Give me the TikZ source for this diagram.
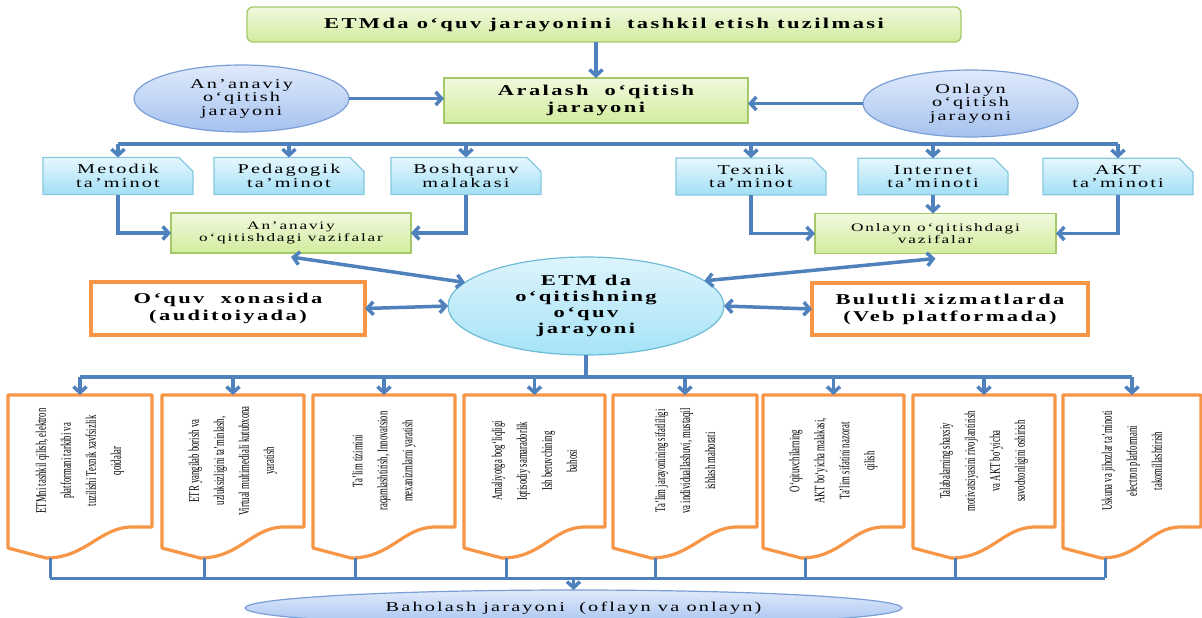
\documentclass[tikz,border=0pt]{standalone}
\usepackage{fontspec}
\setmainfont{Liberation Serif}
\newfontfamily\wf[FakeStretch=1.5,LetterSpace=16]{Liberation Serif}
\newfontfamily\cf[FakeStretch=0.6]{Liberation Serif}
\usetikzlibrary{arrows.meta,shapes.geometric,shapes.misc,calc}
\definecolor{gtop}{HTML}{F1F9DE}
\definecolor{gbot}{HTML}{D2EC9E}
\definecolor{gbord}{HTML}{A5C96A}
\definecolor{btop}{HTML}{DFEAFB}
\definecolor{bbot}{HTML}{A6C2EF}
\definecolor{bbord}{HTML}{7A9FD6}
\definecolor{ctop}{HTML}{E6F7FD}
\definecolor{cbot}{HTML}{A2DFF5}
\definecolor{cbord}{HTML}{86C9E0}
\definecolor{mtop}{HTML}{DDF4FC}
\definecolor{mbot}{HTML}{A6E3F7}
\definecolor{mbord}{HTML}{6FBCD6}
\definecolor{orng}{HTML}{F79646}
\definecolor{ablue}{HTML}{4F81BD}
\tikzset{
  every node/.style={inner sep=0pt,outer sep=0pt},
  gbox/.style={rectangle,draw=gbord,line width=1.3pt,top color=gtop,bottom color=gbot,align=center},
  bell/.style={ellipse,draw=bbord,line width=1.2pt,top color=btop,bottom color=bbot,align=center},
  cbox/.style={chamfered rectangle,chamfered rectangle corners=north east,chamfered rectangle xsep=7pt,chamfered rectangle ysep=7pt,draw=cbord,line width=1.2pt,top color=ctop,bottom color=cbot,align=center,minimum width=150pt,minimum height=36pt,font={\wf\fontsize{13.5}{13.5}\selectfont}},
  obox/.style={rectangle,draw=orng,line width=3.2pt,fill=white,align=center,font={\wf\bfseries\fontsize{15}{17}\selectfont}},
  docnode/.style={rectangle,draw=none},
  docline/.style={draw=orng,line width=3.2pt,fill=white,line join=round},
  vtext/.style={rotate=90,align=center,font={\cf\fontsize{14.5}{25}\selectfont}},
  lnk/.style={draw=ablue,line width=3.5pt},
  thinlnk/.style={draw=ablue,line width=3pt},
  arr/.style={draw=ablue,line width=3.5pt,-{Straight Barb[length=6pt,width=13pt]}},
  darr/.style={draw=ablue,line width=3.5pt,{Straight Barb[length=6pt,width=13pt]}-{Straight Barb[length=6pt,width=13pt]}}
}
\newcommand\mydocbox[4]{%
  \node[docnode,minimum width=#3,minimum height=132pt,anchor=north west] (#1) at (#2,395) {};
  \draw[docline] (#1.north west) -- (#1.north east) -- (#1.south east) -- ([xshift=-20pt]#1.south east)
     .. controls +(-32,0) and +(40,0) .. ([xshift=38pt,yshift=-31pt]#1.south west)
     -- ([yshift=-21pt]#1.south west) -- cycle;
  \node[vtext] (#1t) at (#1.center) {#4};
  \coordinate (#1b) at ([xshift=42pt,yshift=-31pt]#1.south west);
}
\begin{document}
\begin{tikzpicture}[x=1pt,y=-1pt]
\useasboundingbox (0,0) rectangle (1202,618);
\fill[white] (0,0) rectangle (1202,618);
\clip (0,0) rectangle (1202,618);
% top
\node[gbox,rounded corners=6pt,minimum width=714pt,minimum height=35pt,font={\wf\bfseries\fontsize{15}{16}\selectfont}] (tit) at (604,24.5) {ETMda o‘quv jarayonini\ \ tashkil etish tuzilmasi};
\node[gbox,minimum width=304pt,minimum height=45pt,font={\wf\bfseries\fontsize{15}{17}\selectfont}] (ara) at (596,100.5) {Aralash\ \ o‘qitish\\jarayoni};
\node[bell,minimum width=215pt,minimum height=67pt,font={\wf\fontsize{13.5}{13.5}\selectfont}] (lel) at (241.5,98.5) {An’anaviy\\o‘qitish\\jarayoni};
\node[bell,minimum width=215pt,minimum height=67pt,font={\wf\fontsize{13.5}{13.5}\selectfont}] (rel) at (970.5,103.5) {Onlayn\\o‘qitish\\jarayoni};
\draw[arr] (tit.south -| ara.north) -- (ara.north);
\draw[arr] (lel.east) -- (ara.west |- lel.east);
\draw[arr] (rel.west) -- (ara.east |- rel.west);
% small boxes
\node[cbox] (met) at (118,176) {Metodik\\ta’minot};
\node[cbox] (ped) at (289,176) {Pedagogik\\ta’minot};
\node[cbox] (bos) at (466,176) {Boshqaruv\\malakasi};
\node[cbox] (tex) at (751,176.5) {Texnik\\ta’minot};
\node[cbox] (int) at (933,176.5) {Internet\\ta’minoti};
\node[cbox] (akt) at (1118,176.5) {AKT\\ta’minoti};
\coordinate (bus1) at (0,144);
\draw[lnk] (met.north |- bus1) -- (akt.north |- bus1);
\foreach \n in {met,ped,bos,tex,int,akt}{\draw[arr] (\n.north |- bus1) -- (\n.north);}
% tasks
\node[gbox,minimum width=240pt,minimum height=40pt,font={\wf\fontsize{11.5}{11.5}\selectfont}] (anv) at (291,233) {An’anaviy\\o‘qitishdagi vazifalar};
\node[gbox,minimum width=241pt,minimum height=40pt,font={\wf\fontsize{11.5}{11.5}\selectfont}] (onv) at (935.5,233.5) {Onlayn o‘qitishdagi\\vazifalar};
\draw[arr] (met.south) |- (anv.west);
\draw[arr] (bos.south) |- (anv.east);
\draw[arr] (tex.south) |- (onv.west);
\draw[arr] (int.south) -- (int.south |- onv.north);
\draw[arr] (akt.south) |- (onv.east);
% middle
\node[ellipse,draw=mbord,line width=1.2pt,top color=mtop,bottom color=mbot,minimum width=276pt,minimum height=98pt,align=center,font={\wf\bfseries\fontsize{15}{16}\selectfont}] (ell) at (586,306) {ETM da\\o‘qitishning\\o‘quv\\jarayoni};
\node[obox,minimum width=274pt,minimum height=53pt] (oqv) at (228,308.5) {O‘quv\ \ xonasida\\(auditoiyada)};
\node[obox,minimum width=276pt,minimum height=52pt] (bul) at (950,309) {Bulutli xizmatlarda\\(Veb platformada)};
\draw[darr] (oqv.east) -- (ell.west);
\draw[darr] (ell.east) -- (bul.west);
\draw[darr] ([yshift=-4pt]anv.south) -- (ell.169);
\draw[darr] (ell.12) -- ([yshift=-5pt]onv.south);
% bottom boxes
\mydocbox{b1}{8}{144}{ETMni tashkil qilish, elektron\\platformani tarkibi va\\tuzilishi Texnik xavfsizlik\\qoidalar}
\mydocbox{b2}{162}{142}{ETR yangilab borish va\\uzluksizligini ta’minlash,\\Virtual multimediali kutubxona\\yaratish}
\mydocbox{b3}{313}{142}{Ta’lim tizimini\\raqamlashtirish, Innovatsion\\mexanizmlarni yaratish}
\mydocbox{b4}{464}{141}{Amaliyotga bog‘liqligi\\Iqtisodiy samaradorlik\\Ish beruvchining\\bahosi}
\mydocbox{b5}{613}{144}{Ta’lim jarayonining sifatliligi\\va individuallashuvi, mustaqil\\ishlash mahorati}
\mydocbox{b6}{763}{141}{O‘qituvchilarning\\AKT bo‘yicha malakasi,\\Ta’lim sifatini nazorat\\qilish}
\mydocbox{b7}{913}{142}{Talabalarning shaxsiy\\motivatsiyasini rivojlantirish\\va AKT bo‘yicha\\savodxonligini oshirish}
\mydocbox{b8}{1063}{138}{Uskuna va jihozlar ta’minoti\\electron platformani\\takomillashtirish}
\coordinate (bus2) at (0,377);
\coordinate (bus3) at (0,578);
\draw[lnk] (ell.south) -- (ell.south |- bus2);
\draw[lnk] (b1.north |- bus2) -- (b8.north |- bus2);
\foreach \n in {b1,b2,b3,b4,b5,b6,b7,b8}{\draw[arr] (\n.north |- bus2) -- (\n.north);}
\foreach \n in {b1,b2,b3,b4,b5,b6,b7,b8}{\draw[thinlnk] (\n b) -- (\n b |- bus3);}
\draw[thinlnk] (b1b |- bus3) -- (b8b |- bus3);
% evaluation
\node[bell,minimum width=657pt,minimum height=36pt,font={\wf\fontsize{13.5}{14}\selectfont}] (baho) at (573.5,608) {Baholash jarayoni\ \ (oflayn va onlayn)};
\draw[arr] (baho.north |- bus3) -- (baho.north);
\end{tikzpicture}
\end{document}
